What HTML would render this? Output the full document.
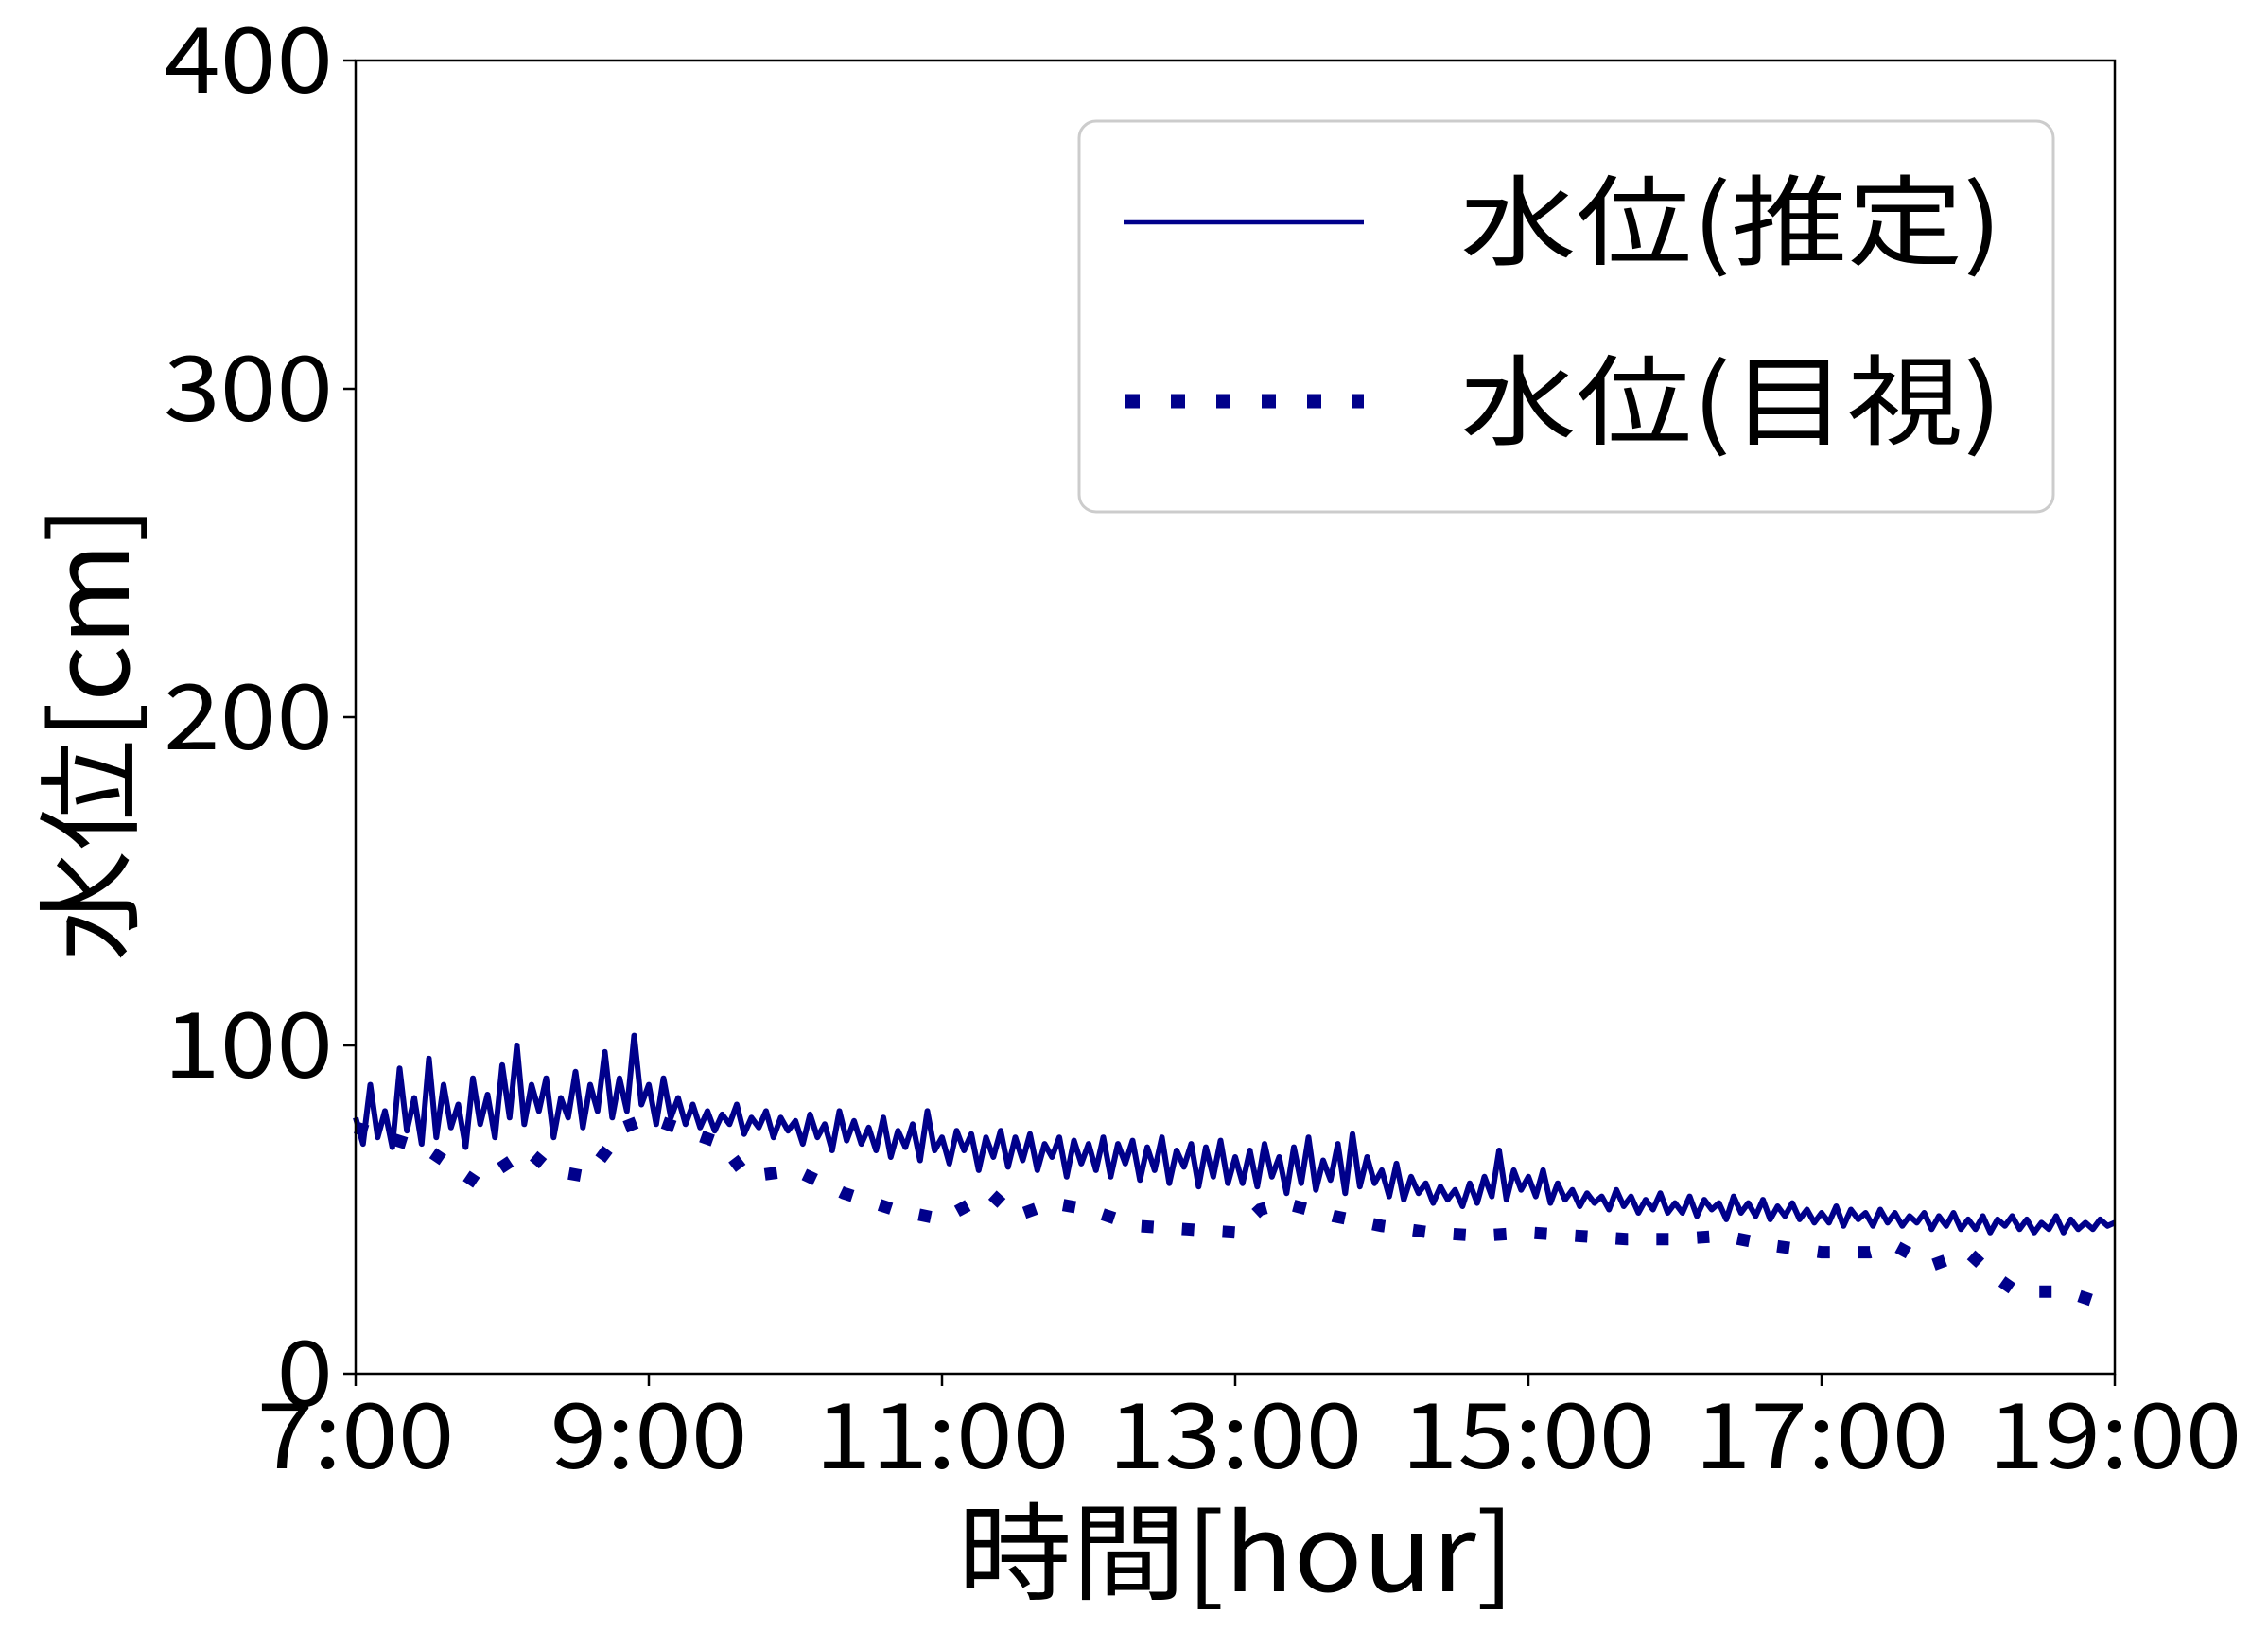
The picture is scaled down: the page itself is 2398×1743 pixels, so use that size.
<!DOCTYPE html>
<html><head><meta charset="utf-8"><style>
body{margin:0;background:#fff}
text{font-family:"Noto Sans CJK JP","Liberation Sans",sans-serif;fill:#000}
</style></head><body>
<svg id="chart" width="2398" height="1738" viewBox="0 0 2398 1738" xmlns="http://www.w3.org/2000/svg">
<rect width="2398" height="1738" fill="#fff"/>
<g id="plot"></g>
<rect x="376" y="64" width="1860" height="1388" fill="none" stroke="#000" stroke-width="2.5"/>
<g id="axes"></g>
<text x="1307" y="1682" font-size="112" text-anchor="middle" textLength="589" lengthAdjust="spacingAndGlyphs">時間[hour]</text>
<text transform="translate(136,775) rotate(-90)" font-size="112" text-anchor="middle" textLength="482" lengthAdjust="spacingAndGlyphs">水位[cm]</text>
<g>
<rect x="1141" y="128" width="1030" height="413" rx="18" fill="#fff" fill-opacity="0.8" stroke="#ccc" stroke-width="3"/>
<line x1="1188" y1="235" x2="1442" y2="235" stroke="#00008b" stroke-width="4.5"/>
<text x="1544" y="272" font-size="104" textLength="573" lengthAdjust="spacingAndGlyphs">水位(推定)</text>
<line x1="1190" y1="424" x2="1442" y2="424" stroke="#00008b" stroke-width="15" stroke-dasharray="15 33"/>
<text x="1544" y="462" font-size="104" textLength="573" lengthAdjust="spacingAndGlyphs">水位(目視)</text>
</g>
</svg>
<script>
const xTicks = [7, 9, 11, 13, 15, 17, 19];
const xTickLabels = ["7:00","9:00","11:00","13:00","15:00","17:00","19:00"];
const yTicks = [0, 100, 200, 300, 400];
// estimated level, every 3 min from 7:00 to 19:00
const estimated = [
78,70,88,72,80,69,93,74,84,70,96,72,88,75,82,69,90,76,85,72,
94,78,100,76,88,80,90,72,84,78,92,75,88,80,98,78,90,80,103,82,
88,76,90,78,84,76,82,75,80,74,79,76,82,73,78,75,80,72,78,74,
77,70,79,72,76,68,80,71,77,70,75,68,78,66,74,69,76,65,80,68,
72,64,74,68,73,62,72,66,74,63,72,65,73,62,70,66,72,60,71,64,
70,62,72,60,70,64,71,59,69,62,72,58,68,63,70,57,69,60,71,58,
66,58,68,57,70,60,66,55,69,58,72,56,65,59,70,55,73,57,66,58,
62,54,64,53,60,55,58,52,57,53,56,51,58,52,60,54,68,53,62,56,
60,54,62,52,58,53,56,51,55,52,54,50,56,51,54,49,53,50,55,49,
52,49,54,48,53,50,52,47,54,49,52,48,53,47,51,48,52,47,50,46,
49,46,51,45,50,47,49,45,50,46,49,45,48,46,49,44,48,45,49,44,
47,44,48,43,47,45,48,44,47,43,46,44,48,43,47,44,46,44,47,45,46];
const obsHours = [7,7.5,7.83,8.17,8.33,8.58,8.83,9,9.5,9.67,10,10.33,10.67,11,11.33,11.5,11.75,12,12.33,12.67,13,13.17,13.33,13.67,14,14.33,14.67,15,15.33,15.67,16,16.33,16.67,17,17.33,17.5,17.75,18,18.17,18.33,18.67,19];
const observed = [75,68,58,68,62,60,75,78,70,60,62,55,50,47,55,48,52,50,45,44,43,50,52,48,45,43,42,43,42,41,41,42,39,37,37,39,33,37,30,25,25,20];

const X0=376,X1=2236,Y0=1452,Y1=64;
const xs=h=>X0+(h-7)/12*(X1-X0);
const ys=v=>Y0-v/400*(Y0-Y1);
const NS="http://www.w3.org/2000/svg";
const plot=document.getElementById('plot'), axes=document.getElementById('axes');
function mk(tag,attrs,parent){const e=document.createElementNS(NS,tag);for(const k in attrs)e.setAttribute(k,attrs[k]);parent.appendChild(e);return e;}

const step=12/(estimated.length-1);
let d=estimated.map((v,i)=>(i?'L':'M')+xs(7+i*step).toFixed(1)+','+ys(v).toFixed(1)).join('');
const est=mk('path',{d:d,fill:'none',stroke:'#00008b','stroke-width':6,'stroke-linejoin':'round'},plot);


let d2=observed.map((v,i)=>(i?'L':'M')+xs(obsHours[i]).toFixed(1)+','+ys(v).toFixed(1)).join('');
const obs=mk('path',{d:d2,fill:'none',stroke:'#00008b','stroke-width':13,'stroke-dasharray':'13 30'},plot);



xTicks.forEach((h,i)=>{
  const t=mk('line',{x1:xs(h),x2:xs(h),y1:Y0,y2:Y0+13,stroke:'#000','stroke-width':2.5},axes);
  
  
  const l=mk('text',{x:0,y:0,transform:'translate('+xs(h)+','+(Y0+100)+') scale(1.12,1)','font-size':96,'text-anchor':'middle'},axes);
  l.textContent=xTickLabels[i];
  
  
});
yTicks.forEach(v=>{
  const t=mk('line',{x1:X0-13,x2:X0,y1:ys(v),y2:ys(v),stroke:'#000','stroke-width':2.5},axes);
  
  
  const l=mk('text',{x:0,y:0,transform:'translate('+(X0-24)+','+(ys(v)+34)+') scale(1.12,1)','font-size':96,'text-anchor':'end'},axes);
  l.textContent=v;
  
  
});
</script>
</body></html>
